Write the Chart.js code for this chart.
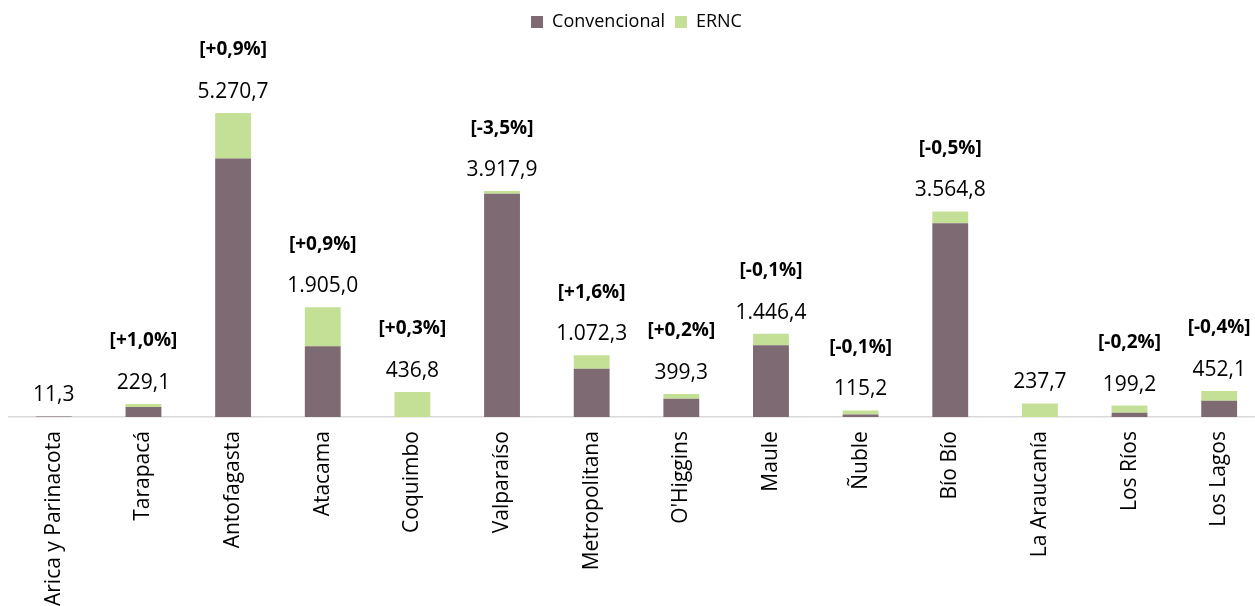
<!DOCTYPE html>
<html lang="es">
<head>
<meta charset="utf-8">
<script src="https://cdn.jsdelivr.net/npm/chart.js@4"></script>
<style>
    html, body { margin: 0; padding: 0; background: #fff; overflow: hidden; }
    #wrap { width: 1272px; height: 606px; }
</style>
</head>
<body>
<div id="wrap"><canvas id="regionChart"></canvas></div>
<script>
const regiones = ["Arica y Parinacota", "Tarapacá", "Antofagasta", "Atacama", "Coquimbo", "Valparaíso",
    "Metropolitana", "O'Higgins", "Maule", "Ñuble", "Bío Bío", "La Araucanía", "Los Ríos", "Los Lagos"];
const convencional = [11.3, 174.0, 4484.0, 1229.0, 0.0, 3872.9, 840.0, 318.0, 1246.0, 47.0, 3360.0, 0.0, 75.0, 283.0];
const ernc = [0.0, 55.1, 786.7, 676.0, 436.8, 45.0, 232.3, 81.3, 200.4, 68.2, 204.8, 237.7, 124.2, 169.1];
const variacion = [null, "+1,0%", "+0,9%", "+0,9%", "+0,3%", "-3,5%", "+1,6%", "+0,2%", "-0,1%", "-0,1%", "-0,5%", null, "-0,2%", "-0,4%"];

const FONT = "'Open Sans', sans-serif";

// 5270.7 -> "5.270,7"
function fmt(v) {
    const [ent, dec] = v.toFixed(1).split(".");
    return ent.replace(/\B(?=(\d{3})+(?!\d))/g, ".") + "," + dec;
}

// total above each stacked bar, with the bracketed change above it
const totalLabels = {
    id: "totalLabels",
    afterDatasetsDraw(chart) {
        const { ctx, scales: { x, y } } = chart;
        ctx.save();
        ctx.textAlign = "center";
        ctx.textBaseline = "middle";
        ctx.fillStyle = "#000";
        regiones.forEach((_, i) => {
            const total = convencional[i] + ernc[i];
            const cx = x.getPixelForValue(i);
            const top = y.getPixelForValue(total);
            ctx.font = "21px " + FONT;
            ctx.fillText(fmt(total), cx, top - 21);
            if (variacion[i]) {
                ctx.font = "bold 19px " + FONT;
                ctx.fillText("[" + variacion[i] + "]", cx, top - 63);
            }
        });
        ctx.restore();
    }
};

new Chart(document.getElementById("regionChart"), {
    type: "bar",
    data: {
        labels: regiones,
        datasets: [
            { label: "Convencional", data: convencional, backgroundColor: "#7e6a72" },
            { label: "ERNC", data: ernc, backgroundColor: "#c4df96" }
        ]
    },
    options: {
        responsive: true,
        maintainAspectRatio: false,
        animation: false,
        layout: { padding: { left: 9, right: 8, top: 3, bottom: -14 } },
        datasets: { bar: { categoryPercentage: 1, barPercentage: 0.4 } },
        plugins: {
            legend: {
                position: "top",
                labels: {
                    boxWidth: 12,
                    boxHeight: 12,
                    color: "#000",
                    font: { family: FONT, size: 18 }
                }
            },
            tooltip: { enabled: false }
        },
        scales: {
            x: {
                stacked: true,
                grid: { display: false, drawTicks: false },
                border: { color: "#d9d9d9", width: 1.5 },
                ticks: {
                    maxRotation: 90,
                    minRotation: 90,
                    autoSkip: false,
                    padding: 14,
                    color: "#000",
                    font: { family: FONT, size: 21 }
                }
            },
            y: {
                stacked: true,
                display: false,
                min: 0,
                max: 6520
            }
        }
    },
    plugins: [totalLabels]
});
</script>
</body>
</html>
